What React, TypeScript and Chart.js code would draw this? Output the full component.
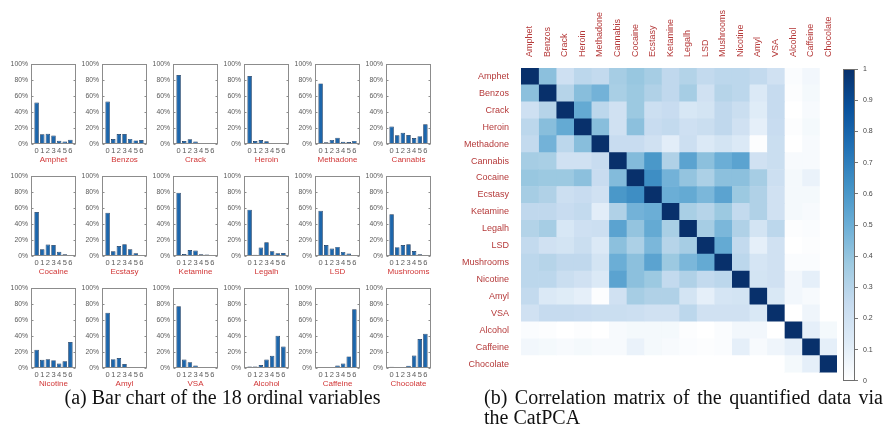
import React, { useEffect, useRef } from "react";
import { Chart, registerables } from "chart.js";
Chart.register(...registerables);

const FONT = '"Liberation Sans", Arial, Helvetica, sans-serif';
Chart.defaults.font.family = FONT;

// ---------- data ----------
const drugs = [
  "Amphet", "Benzos", "Crack", "Heroin", "Methadone", "Cannabis",
  "Cocaine", "Ecstasy", "Ketamine", "Legalh", "LSD", "Mushrooms",
  "Nicotine", "Amyl", "VSA", "Alcohol", "Caffeine", "Chocolate",
];
const levels = ["0", "1", "2", "3", "4", "5", "6"];
const percentTicks = [0, 20, 40, 60, 80, 100];

const amphet = [51.8, 12.2, 12.9, 10.5, 4.0, 3.2, 5.4];
const benzos = [53.1, 6.2, 12.4, 12.5, 6.4, 4.5, 5.0];
const crack = [86.3, 3.6, 5.9, 3.1, 0.5, 0.5, 0.1];
const heroin = [85.1, 3.6, 5.0, 3.4, 1.3, 0.8, 0.7];
const methadone = [75.8, 2.1, 5.1, 7.9, 2.7, 2.5, 3.9];
const cannabis = [21.9, 11.0, 14.1, 11.2, 7.4, 9.8, 24.6];
const cocaine = [55.1, 8.5, 14.3, 13.7, 5.3, 2.2, 1.0];
const ecstasy = [54.2, 6.0, 12.4, 14.7, 8.3, 3.3, 1.1];
const ketamine = [79.0, 2.4, 7.5, 6.8, 2.2, 1.8, 0.2];
const legalh = [58.0, 1.5, 10.5, 17.1, 5.8, 3.4, 3.6];
const lsd = [56.7, 13.7, 9.4, 11.4, 5.1, 3.0, 0.7];
const mushrooms = [52.1, 11.1, 13.8, 14.6, 6.1, 2.1, 0.2];
const nicotine = [22.7, 10.2, 10.8, 9.8, 5.7, 8.3, 32.4];
const amyl = [69.2, 11.1, 12.6, 4.9, 1.3, 0.7, 0.2];
const vsa = [77.2, 10.6, 7.2, 3.2, 0.7, 0.7, 0.4];
const alcohol = [1.8, 1.8, 3.6, 10.5, 15.2, 40.3, 26.8];
const caffeine = [1.4, 0.5, 1.3, 3.2, 5.6, 14.5, 73.5];
const chocolate = [1.7, 0.2, 0.5, 2.9, 15.7, 36.2, 42.8];

const barSeries = [
  amphet, benzos, crack, heroin, methadone, cannabis,
  cocaine, ecstasy, ketamine, legalh, lsd, mushrooms,
  nicotine, amyl, vsa, alcohol, caffeine, chocolate,
];

const correlation = [
  [1, .42, .21, .28, .26, .35, .39, .35, .27, .31, .26, .28, .28, .26, .20, .02, .05, .00],
  [.42, 1, .30, .43, .48, .34, .38, .32, .27, .35, .20, .30, .28, .14, .25, .01, .04, .00],
  [.21, .30, 1, .52, .28, .20, .38, .22, .24, .16, .18, .27, .23, .12, .25, .00, .03, .00],
  [.28, .43, .52, 1, .43, .20, .42, .24, .26, .21, .23, .27, .20, .10, .24, .01, .04, .00],
  [.26, .48, .28, .43, 1, .24, .24, .20, .11, .22, .14, .18, .14, .01, .23, .00, .03, .00],
  [.35, .34, .20, .20, .24, 1, .44, .60, .32, .55, .42, .50, .55, .20, .23, .03, .03, .00],
  [.39, .38, .38, .42, .24, .44, 1, .64, .48, .40, .33, .42, .42, .35, .22, .04, .08, .00],
  [.35, .32, .22, .24, .20, .60, .64, 1, .50, .52, .46, .55, .38, .32, .20, .04, .04, .00],
  [.27, .27, .24, .26, .11, .32, .48, .50, 1, .34, .30, .38, .26, .32, .20, .04, .03, .00],
  [.31, .35, .16, .21, .22, .55, .40, .52, .34, 1, .35, .46, .32, .18, .28, .01, .02, .00],
  [.26, .20, .18, .23, .14, .42, .33, .46, .30, .35, 1, .52, .26, .10, .20, .00, .01, .00],
  [.28, .30, .27, .27, .18, .50, .42, .55, .38, .46, .52, 1, .28, .17, .20, .02, .02, .00],
  [.28, .28, .23, .20, .14, .55, .42, .38, .26, .32, .26, .28, 1, .18, .20, .05, .10, .00],
  [.26, .14, .12, .10, .01, .20, .35, .32, .32, .18, .10, .17, .18, 1, .15, .05, .03, .00],
  [.20, .25, .25, .24, .23, .23, .22, .20, .20, .28, .20, .20, .20, .15, 1, .00, .06, .00],
  [.02, .01, .00, .01, .00, .03, .04, .04, .04, .01, .00, .02, .05, .05, .00, 1, .10, .04],
  [.05, .04, .03, .04, .03, .03, .08, .04, .03, .02, .01, .02, .10, .03, .06, .10, 1, .10],
  [.00, .00, .00, .00, .00, .00, .00, .00, .00, .00, .00, .00, .00, .00, .00, .04, .10, 1],
];

// ---------- styling ----------
const BLUES = ["#ffffff", "#deebf7", "#c6dbef", "#9ecae1", "#6baed6", "#4292c6", "#2171b5", "#08519c", "#08306b"];
function hexToRgb(h: string) {
  return [parseInt(h.slice(1, 3), 16), parseInt(h.slice(3, 5), 16), parseInt(h.slice(5, 7), 16)];
}
function blues(v: number) {
  const t = Math.max(0, Math.min(1, v)) * (BLUES.length - 1);
  const i = Math.min(BLUES.length - 2, Math.floor(t));
  const f = t - i;
  const a = hexToRgb(BLUES[i]);
  const b = hexToRgb(BLUES[i + 1]);
  const c = a.map((x, k) => Math.round(x + (b[k] - x) * f));
  return `rgb(${c[0]},${c[1]},${c[2]})`;
}

const BAR_FILL = "#1d66ab";
const BAR_EDGE = "#132f52";
const BOX = "#8c8c8c";
const TICK_TEXT = "#5a5a5a";
const NAME_RED = "#d13636";
const LABEL_RED = "#b53a3a";

const boxPlugin = {
  id: "boxFrame",
  afterDatasetsDraw(chart: any) {
    const { ctx, chartArea } = chart;
    const { left, top, right, bottom } = chartArea;
    ctx.save();
    ctx.strokeStyle = BOX;
    ctx.lineWidth = 1;
    const l = Math.round(left) + 0.5, t = Math.round(top) + 0.5;
    const r = Math.round(right) - 0.5, b = Math.round(bottom) - 0.5;
    ctx.strokeRect(l, t, r - l, b - t);
    const ys = chart.scales.y;
    ctx.beginPath();
    for (const v of percentTicks) {
      const y = Math.round(ys.getPixelForValue(v)) + 0.5;
      ctx.moveTo(l, y); ctx.lineTo(l + 2, y);
      ctx.moveTo(r, y); ctx.lineTo(r - 2, y);
    }
    ctx.stroke();
    ctx.restore();
  },
};

const COL_LEFTS = [31, 102, 173, 244, 315, 386];
const ROW_TOPS = [63, 175, 287];
const PLOT_W = 45;
const PLOT_H = 81;
const Y_AXIS_W = 30;
const PAD_TOP = 6;
const PAD_RIGHT = 4;
const X_AXIS_H = 21;

function SmallBar({ index }: { index: number }) {
  const ref = useRef<HTMLCanvasElement>(null);
  const col = index % 6;
  const row = Math.floor(index / 6);
  const cw = Y_AXIS_W + PLOT_W + PAD_RIGHT;
  const ch = PAD_TOP + PLOT_H + X_AXIS_H;
  useEffect(() => {
    const chart = new Chart(ref.current as HTMLCanvasElement, {
      type: "bar",
      data: {
        labels: ["", ...levels, ""],
        datasets: [
          {
            data: [null, ...barSeries[index], null] as any,
            backgroundColor: BAR_FILL,
            borderColor: BAR_EDGE,
            borderWidth: 0.7,
            barPercentage: 0.8,
            categoryPercentage: 1,
          },
        ],
      },
      options: {
        animation: false,
        responsive: false,
        events: [],
        layout: { padding: { top: PAD_TOP, right: PAD_RIGHT, left: 0, bottom: 0 } },
        plugins: { legend: { display: false }, tooltip: { enabled: false } },
        scales: {
          x: {
            offset: false,
            grid: { display: false, drawTicks: false },
            border: { display: false },
            ticks: {
              autoSkip: false, maxRotation: 0, minRotation: 0, padding: 2,
              font: { size: 7.5, family: FONT }, color: TICK_TEXT,
            },
            title: {
              display: true, text: drugs[index], color: NAME_RED,
              font: { size: 8, family: FONT }, padding: 0,
            },
            afterFit: (s: any) => { s.height = X_AXIS_H; },
          },
          y: {
            min: 0, max: 100,
            grid: { display: false, drawTicks: false },
            border: { display: false },
            ticks: {
              stepSize: 20, padding: 3,
              callback: (v: any) => `${v}%`,
              font: { size: 6.8, family: FONT }, color: TICK_TEXT,
            },
            afterFit: (s: any) => { s.width = Y_AXIS_W; },
          },
        },
      } as any,
      plugins: [boxPlugin],
    });
    return () => chart.destroy();
  }, [index]);
  return (
    <canvas
      ref={ref}
      width={cw}
      height={ch}
      style={{
        position: "absolute",
        left: COL_LEFTS[col] - Y_AXIS_W,
        top: ROW_TOPS[row] - PAD_TOP,
        width: cw,
        height: ch,
      }}
    />
  );
}

function Heatmap() {
  const ref = useRef<HTMLCanvasElement>(null);
  useEffect(() => {
    const datasets = drugs.map((colName, j) => ({
      label: colName,
      data: drugs.map(() => 1),
      backgroundColor: drugs.map((_, i) => blues(correlation[i][j])),
      borderWidth: 0,
      barPercentage: 1,
      categoryPercentage: 1,
      stack: "cells",
    }));
    const chart = new Chart(ref.current as HTMLCanvasElement, {
      type: "bar",
      data: { labels: drugs, datasets },
      options: {
        indexAxis: "y",
        animation: false,
        responsive: false,
        events: [],
        layout: { padding: { top: 0, right: 3, left: 0, bottom: 6 } },
        plugins: { legend: { display: false }, tooltip: { enabled: false } },
        scales: {
          x: { stacked: true, min: 0, max: drugs.length, display: false },
          y: {
            stacked: true,
            grid: { display: false, drawTicks: false },
            border: { display: false },
            ticks: { autoSkip: false, padding: 12, font: { size: 9, family: FONT }, color: LABEL_RED },
            afterFit: (s: any) => { s.width = 81; },
          },
          x2: {
            type: "category",
            labels: drugs,
            position: "top",
            offset: true,
            grid: { display: false, drawTicks: false },
            border: { display: false },
            ticks: {
              autoSkip: false, minRotation: 90, maxRotation: 90, padding: 11,
              labelOffset: 10.8,
              font: { size: 9, family: FONT }, color: LABEL_RED,
            },
            afterFit: (s: any) => { s.height = 68; },
          },
        },
      } as any,
    });
    return () => chart.destroy();
  }, []);
  return (
    <canvas
      ref={ref}
      width={400}
      height={390}
      style={{ position: "absolute", left: 440, top: 0, width: 400, height: 390 }}
    />
  );
}

const colorbarPlugin = {
  id: "colorbarFill",
  beforeDatasetsDraw(chart: any) {
    const { ctx, chartArea } = chart;
    const ys = chart.scales.y;
    const y0 = ys.getPixelForValue(0);
    const y1 = ys.getPixelForValue(1);
    const g = ctx.createLinearGradient(0, y0, 0, y1);
    BLUES.forEach((c, k) => g.addColorStop(k / (BLUES.length - 1), c));
    ctx.save();
    ctx.fillStyle = g;
    ctx.fillRect(chartArea.left, y1, chartArea.right - chartArea.left, y0 - y1);
    ctx.strokeStyle = "#6e6e6e";
    ctx.lineWidth = 1;
    ctx.strokeRect(Math.round(chartArea.left) + 0.5, Math.round(y1) + 0.5,
      Math.round(chartArea.right - chartArea.left) - 1, Math.round(y0 - y1) - 1);
    ctx.restore();
  },
};

function Colorbar() {
  const ref = useRef<HTMLCanvasElement>(null);
  useEffect(() => {
    const chart = new Chart(ref.current as HTMLCanvasElement, {
      type: "bar",
      data: { labels: [""], datasets: [] },
      options: {
        animation: false,
        responsive: false,
        events: [],
        layout: { padding: { top: 8, right: 0, left: 13, bottom: 6 } },
        plugins: { legend: { display: false }, tooltip: { enabled: false } },
        scales: {
          x: { display: false },
          y: {
            position: "right",
            min: 0, max: 1,
            grid: { drawOnChartArea: false, tickLength: 3, color: "#777" },
            border: { display: false },
            ticks: {
              stepSize: 0.1, padding: 5,
              callback: (v: any) => String(Number(Number(v).toFixed(1))),
              font: { size: 7, family: FONT }, color: "#444",
            },
            afterFit: (s: any) => { s.width = 28; },
          },
        },
      } as any,
      plugins: [colorbarPlugin],
    });
    return () => chart.destroy();
  }, []);
  return (
    <canvas
      ref={ref}
      width={53}
      height={330}
      style={{ position: "absolute", left: 830, top: 60, width: 53, height: 330 }}
    />
  );
}

const captionStyle: React.CSSProperties = {
  position: "absolute",
  fontFamily: '"Liberation Serif", "Times New Roman", serif',
  fontSize: 20,
  lineHeight: "20px",
  color: "#111",
  margin: 0,
};

export default function App() {
  return (
    <div style={{ position: "absolute", left: 0, top: 0, width: 883, height: 446, background: "#fff", overflow: "hidden" }}>
      {drugs.map((_, i) => (
        <SmallBar key={i} index={i} />
      ))}
      <Heatmap />
      <Colorbar />
      <div style={{ ...captionStyle, left: 0, top: 387, width: 445, textAlign: "center" }}>
        (a) Bar chart of the 18 ordinal variables
      </div>
      <div style={{ ...captionStyle, left: 484, top: 387, width: 399, textAlign: "justify" }}>
        (b) Correlation matrix of the quantified data via the CatPCA
      </div>
    </div>
  );
}
